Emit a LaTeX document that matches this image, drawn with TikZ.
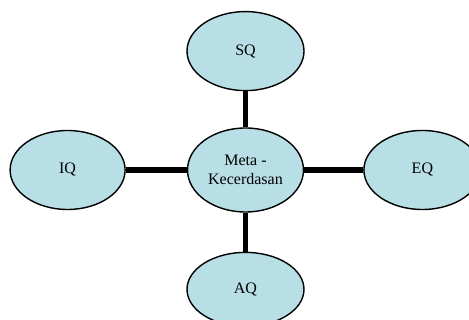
\documentclass[tikz,border=0pt]{standalone}
\usepackage{fontspec}
\setmainfont{Liberation Serif}
\usepackage{xcolor}
\usetikzlibrary{shapes.geometric, positioning}

\definecolor{qblue}{RGB}{183,223,229}

\begin{document}
\begin{tikzpicture}[
      x=1pt, y=1pt,
      qnode/.style={ellipse, draw=black, fill=qblue, line width=1.4pt,
                    inner sep=0pt, minimum width=117pt, minimum height=79pt,
                    font=\fontsize{16}{19}\selectfont},
      qlink/.style={line width=5.5pt},
      anchor=center
    ]
    \useasboundingbox (0,0) rectangle (469,320);

    \node[qnode, minimum width=116pt, minimum height=84pt, align=center]
        (meta) at (245.5,150) {Meta -\\Kecerdasan};

    \node[qnode, above=36pt of meta] (sq) {SQ};
    \node[qnode, left=61pt of meta, minimum width=115pt] (iq) {IQ};
    \node[qnode, right=59pt of meta] (eq) {EQ};
    \node[qnode, below=39pt of meta, minimum height=74pt] (aq) {AQ};

    % links from the centre
    \draw[qlink] (meta) -- (sq);
    \draw[qlink] (meta) -- (iq);
    \draw[qlink] (meta) -- (eq);
    \draw[qlink] (meta) -- (aq);

\end{tikzpicture}
\end{document}
